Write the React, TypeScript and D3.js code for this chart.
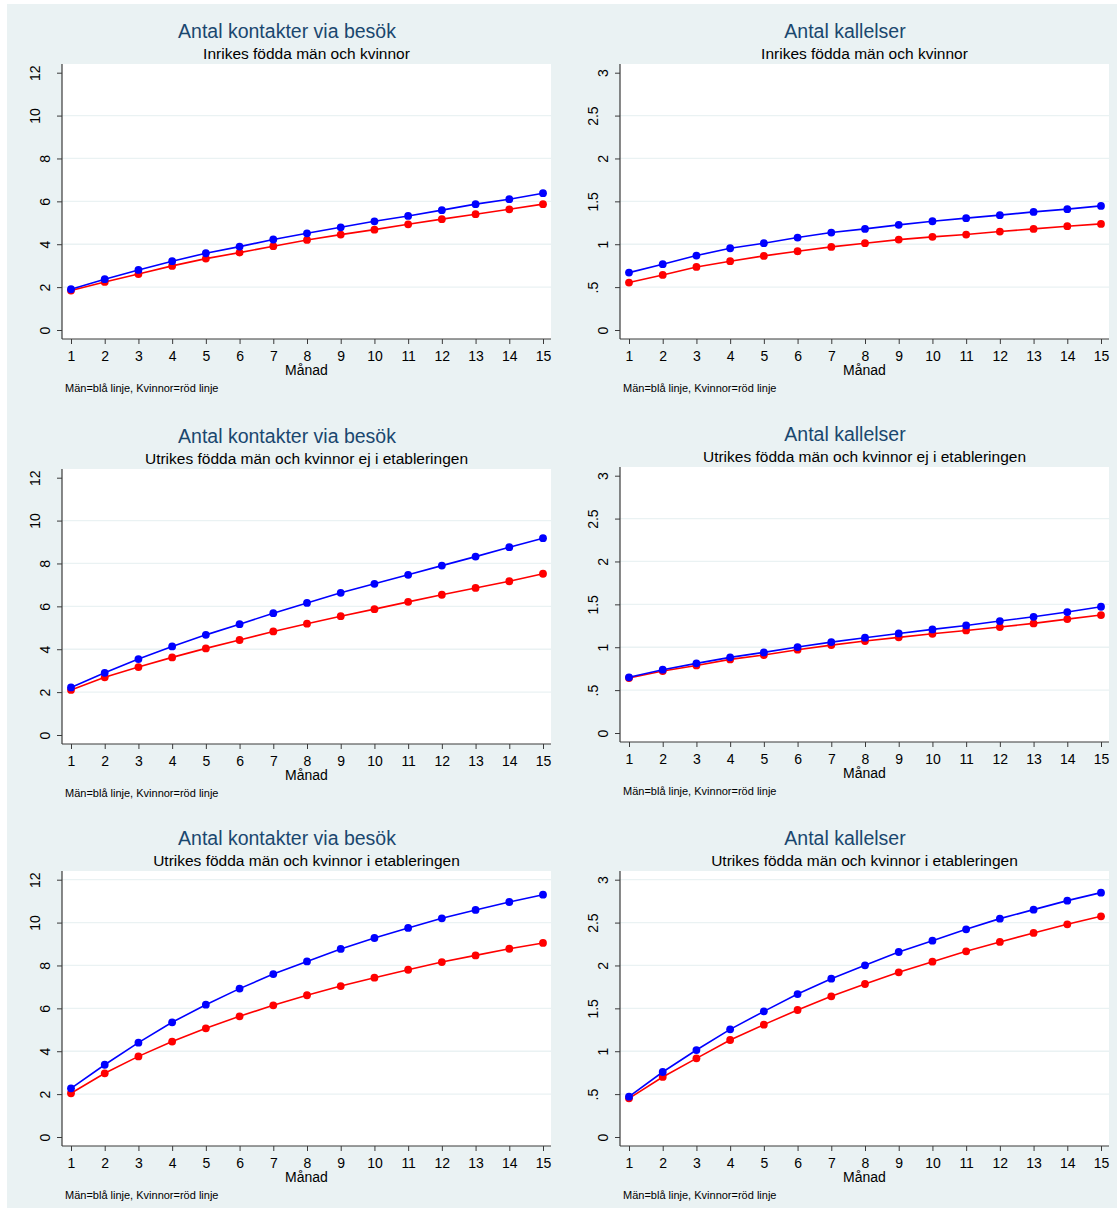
import React, { useEffect, useRef } from 'react';
import * as d3 from 'd3';

// months on the x axis
const months = [1, 2, 3, 4, 5, 6, 7, 8, 9, 10, 11, 12, 13, 14, 15];

// y ticks
const kontakterTicks = [0, 2, 4, 6, 8, 10, 12];
const kontakterTickLabels = ['0', '2', '4', '6', '8', '10', '12'];
const kallelserTicks = [0, 0.5, 1, 1.5, 2, 2.5, 3];
const kallelserTickLabels = ['0', '.5', '1', '1.5', '2', '2.5', '3'];

// Antal kontakter via besök
const kontakterInrikesMan = [1.90, 2.37, 2.80, 3.21, 3.58, 3.89, 4.22, 4.51, 4.79, 5.07, 5.32, 5.59, 5.87, 6.10, 6.38];
const kontakterInrikesKvinnor = [1.84, 2.24, 2.61, 2.99, 3.33, 3.61, 3.91, 4.20, 4.45, 4.68, 4.93, 5.17, 5.40, 5.63, 5.87];
const kontakterEjEtablMan = [2.22, 2.90, 3.54, 4.13, 4.67, 5.17, 5.68, 6.16, 6.63, 7.05, 7.47, 7.90, 8.32, 8.76, 9.18];
const kontakterEjEtablKvinnor = [2.10, 2.69, 3.17, 3.62, 4.04, 4.43, 4.83, 5.19, 5.54, 5.87, 6.21, 6.54, 6.86, 7.17, 7.52];
const kontakterEtablMan = [2.27, 3.37, 4.40, 5.35, 6.17, 6.92, 7.60, 8.19, 8.77, 9.28, 9.75, 10.20, 10.59, 10.96, 11.30];
const kontakterEtablKvinnor = [2.04, 2.97, 3.76, 4.45, 5.07, 5.63, 6.14, 6.61, 7.04, 7.43, 7.80, 8.16, 8.47, 8.78, 9.05];

// Antal kallelser
const kallelserInrikesMan = [0.669, 0.767, 0.868, 0.953, 1.012, 1.078, 1.136, 1.179, 1.226, 1.268, 1.304, 1.339, 1.377, 1.409, 1.447];
const kallelserInrikesKvinnor = [0.553, 0.642, 0.735, 0.802, 0.864, 0.918, 0.969, 1.012, 1.054, 1.086, 1.113, 1.148, 1.179, 1.210, 1.237];
const kallelserEjEtablMan = [0.649, 0.738, 0.812, 0.882, 0.940, 1.002, 1.060, 1.111, 1.161, 1.208, 1.254, 1.305, 1.355, 1.410, 1.472];
const kallelserEjEtablKvinnor = [0.641, 0.722, 0.788, 0.858, 0.909, 0.971, 1.025, 1.072, 1.115, 1.157, 1.196, 1.235, 1.278, 1.328, 1.375];
const kallelserEtablMan = [0.470, 0.758, 1.014, 1.255, 1.465, 1.667, 1.846, 2.002, 2.157, 2.289, 2.421, 2.546, 2.651, 2.756, 2.849];
const kallelserEtablKvinnor = [0.451, 0.700, 0.917, 1.131, 1.310, 1.481, 1.640, 1.784, 1.920, 2.044, 2.165, 2.274, 2.379, 2.480, 2.573];

const titles = ['Antal kontakter via besök', 'Antal kallelser'];
const subtitles = [
  'Inrikes födda män och kvinnor',
  'Utrikes födda män och kvinnor ej i etableringen',
  'Utrikes födda män och kvinnor i etableringen',
];
const xTitle = 'Månad';
const note = 'Män=blå linje, Kvinnor=röd linje';

const W = 1117, H = 1211;
const BG = '#EAF2F3';
const BLUE = '#0000FF';
const RED = '#FF0000';
const TITLE_COLOR = '#1A476F';
const AXIS_COLOR = '#3a3a3a';
const FONT = '"Liberation Sans", Arial, sans-serif';

// plot region inside one panel
const plot = { left: 62, right: 551, top: 64, bottom: 339 };

const panels = [
  { dx: 0, dy: 0, title: titles[0], sub: subtitles[0], men: kontakterInrikesMan, women: kontakterInrikesKvinnor, ticks: kontakterTicks, labels: kontakterTickLabels, topGrid: false },
  { dx: 558, dy: 0, title: titles[1], sub: subtitles[0], men: kallelserInrikesMan, women: kallelserInrikesKvinnor, ticks: kallelserTicks, labels: kallelserTickLabels, topGrid: false },
  { dx: 0, dy: 405, title: titles[0], sub: subtitles[1], men: kontakterEjEtablMan, women: kontakterEjEtablKvinnor, ticks: kontakterTicks, labels: kontakterTickLabels, topGrid: false },
  { dx: 558, dy: 403, title: titles[1], sub: subtitles[1], men: kallelserEjEtablMan, women: kallelserEjEtablKvinnor, ticks: kallelserTicks, labels: kallelserTickLabels, topGrid: false },
  { dx: 0, dy: 807, title: titles[0], sub: subtitles[2], men: kontakterEtablMan, women: kontakterEtablKvinnor, ticks: kontakterTicks, labels: kontakterTickLabels, topGrid: true },
  { dx: 558, dy: 807, title: titles[1], sub: subtitles[2], men: kallelserEtablMan, women: kallelserEtablKvinnor, ticks: kallelserTicks, labels: kallelserTickLabels, topGrid: true },
];

function drawPanel(svg: any, p: any) {
  const g = svg.append('g').attr('transform', `translate(${p.dx},${p.dy})`);
  const yMax = p.ticks[p.ticks.length - 1];

  const x = d3.scaleLinear().domain([1, 15]).range([71, 543]);
  const y = d3.scaleLinear().domain([0, yMax]).range([330, 72.7]);

  // plot region
  g.append('rect')
    .attr('x', plot.left).attr('y', plot.top)
    .attr('width', plot.right - plot.left).attr('height', plot.bottom - plot.top)
    .attr('fill', '#fff');

  // grid lines (none at 0, top one only in last row)
  const gridTicks = p.ticks.filter((t: number) => t > 0 && (p.topGrid || t < yMax));
  g.selectAll('line.grid')
    .data(gridTicks)
    .join('line')
    .attr('class', 'grid')
    .attr('x1', plot.left).attr('x2', plot.right)
    .attr('y1', (d: number) => y(d)).attr('y2', (d: number) => y(d))
    .attr('stroke', BG).attr('stroke-width', 1.3);

  // series: women first so men are drawn on top
  const line = d3.line<number>().x((d, i) => x(months[i])).y(d => y(d));
  [{ values: p.women, color: RED }, { values: p.men, color: BLUE }].forEach(s => {
    g.append('path')
      .attr('d', line(s.values))
      .attr('fill', 'none')
      .attr('stroke', s.color)
      .attr('stroke-width', 1.6);
    g.append('g').selectAll('circle')
      .data(s.values)
      .join('circle')
      .attr('cx', (d: number, i: number) => x(months[i]))
      .attr('cy', (d: number) => y(d))
      .attr('r', 3.9)
      .attr('fill', s.color);
  });

  // x axis
  const xAxis = g.append('g')
    .attr('transform', `translate(0,${plot.bottom})`)
    .call(d3.axisBottom(x).tickValues(months).tickSize(5).tickFormat(d3.format('d')));
  xAxis.select('.domain').remove();
  xAxis.selectAll('line').attr('stroke', AXIS_COLOR);
  xAxis.selectAll('text')
    .attr('y', 17).attr('dy', '0.35em')
    .attr('fill', '#000')
    .style('font-family', FONT).style('font-size', '14px');

  // y axis, labels rotated
  const yAxis = g.append('g')
    .attr('transform', `translate(${plot.left},0)`)
    .call(d3.axisLeft(y).tickValues(p.ticks).tickSize(5).tickFormat((d: any, i: number) => p.labels[i]));
  yAxis.select('.domain').remove();
  yAxis.selectAll('line').attr('stroke', AXIS_COLOR);
  yAxis.selectAll('text')
    .attr('x', null).attr('dy', null)
    .attr('text-anchor', 'middle')
    .attr('dominant-baseline', 'central')
    .attr('transform', (d: any, i: number) => `translate(${p.labels[i].length > 1 ? -27.5 : -17.5},0) rotate(-90)`)
    .attr('fill', '#000')
    .style('font-family', FONT).style('font-size', '14px');

  // axis lines
  g.append('line')
    .attr('x1', plot.left).attr('x2', plot.left)
    .attr('y1', plot.top).attr('y2', plot.bottom)
    .attr('stroke', AXIS_COLOR).attr('stroke-width', 1.2);
  g.append('line')
    .attr('x1', plot.left).attr('x2', plot.right)
    .attr('y1', plot.bottom).attr('y2', plot.bottom)
    .attr('stroke', AXIS_COLOR).attr('stroke-width', 1.2);

  // titles and texts
  g.append('text')
    .attr('x', 287).attr('y', 30.7)
    .attr('text-anchor', 'middle').attr('dominant-baseline', 'central')
    .attr('fill', TITLE_COLOR)
    .style('font-family', FONT).style('font-size', '19.5px')
    .text(p.title);
  g.append('text')
    .attr('x', (plot.left + plot.right) / 2).attr('y', 53.3)
    .attr('text-anchor', 'middle').attr('dominant-baseline', 'central')
    .attr('fill', '#000')
    .style('font-family', FONT).style('font-size', '15.5px')
    .text(p.sub);
  g.append('text')
    .attr('x', (plot.left + plot.right) / 2).attr('y', 370)
    .attr('text-anchor', 'middle').attr('dominant-baseline', 'central')
    .attr('fill', '#000')
    .style('font-family', FONT).style('font-size', '14px')
    .text(xTitle);
  g.append('text')
    .attr('x', 65).attr('y', 388)
    .attr('dominant-baseline', 'central')
    .attr('fill', '#000')
    .style('font-family', FONT).style('font-size', '11px')
    .text(note);
}

export default function App() {
  const ref = useRef<SVGSVGElement>(null);

  useEffect(() => {
    const svg = d3.select(ref.current);
    svg.selectAll('*').remove();
    svg.append('rect').attr('width', W).attr('height', H).attr('fill', '#fff');
    svg.append('rect').attr('x', 7).attr('y', 4).attr('width', W - 7).attr('height', 1204).attr('fill', BG);
    panels.forEach(p => drawPanel(svg, p));
  }, []);

  return (
    <svg ref={ref} width={W} height={H} style={{ position: 'absolute', left: 0, top: 0 }} />
  );
}
